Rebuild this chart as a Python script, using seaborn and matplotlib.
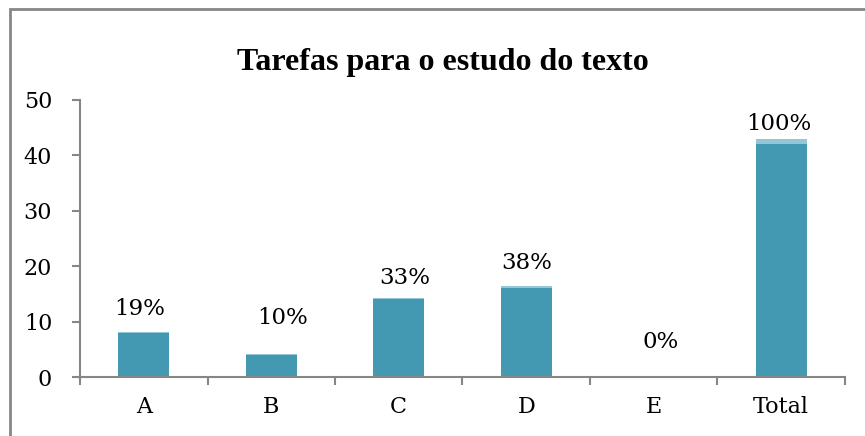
import matplotlib
matplotlib.use("Agg")
import matplotlib.pyplot as plt
from matplotlib.patches import Rectangle
import seaborn as sns
import pandas as pd

# chart data
categories = ["A", "B", "C", "D", "E", "Total"]
counts = [8, 4, 14, 16, 0, 42]
shares = [0.19, 0.10, 0.33, 0.38, 0.0, 1.0]
share_labels = ["19%", "10%", "33%", "38%", "0%", "100%"]

# manual label nudges (points), as placed in the original
label_dx = [-3, 8, 4, 0, 5, -2]
label_dy = [16, 26, 14, 17, 25, 10.5]

dark = "#4399B1"
light = "#93C6D6"
grey = "#868686"

sns.set_theme(style="white")
plt.rcParams["font.family"] = ["DejaVu Serif"]
plt.rcParams["text.color"] = "black"
plt.rcParams["xtick.color"] = "black"
plt.rcParams["ytick.color"] = "black"

df = pd.DataFrame({
    "categoria": categories,
    "n": counts,
    "topo": [c + s for c, s in zip(counts, shares)],
})

fig = plt.figure(figsize=(8.65, 4.36), dpi=100)
ax = fig.add_axes([80 / 865, 59 / 436, 765 / 865, 277 / 436])

# light cap = share stacked on top of the count
sns.barplot(data=df, x="categoria", y="topo", color=light, width=0.4,
            saturation=1, ax=ax, linewidth=0)
sns.barplot(data=df, x="categoria", y="n", color=dark, width=0.4,
            saturation=1, ax=ax, linewidth=0)

ax.set_xlim(-0.5, len(categories) - 0.5)
ax.set_ylim(0, 50)
ax.set_yticks(range(0, 51, 10))
ax.set_xlabel("")
ax.set_ylabel("")

# ticks between categories, labels at the centers
ax.set_xticks([i - 0.5 for i in range(len(categories) + 1)])
ax.set_xticklabels([])
ax.set_xticks(range(len(categories)), minor=True)
ax.set_xticklabels(categories, minor=True)
ax.tick_params(axis="x", which="major", direction="out", length=6,
               width=1.5, color=grey, bottom=True)
ax.tick_params(axis="x", which="minor", length=0, pad=14, labelsize=16,
               labelcolor="black")
ax.tick_params(axis="y", direction="out", length=6, width=1.5, color=grey,
               left=True, pad=14, labelsize=16, labelcolor="black")

for side in ["top", "right"]:
    ax.spines[side].set_visible(False)
for side in ["left", "bottom"]:
    ax.spines[side].set_color(grey)
    ax.spines[side].set_linewidth(1.5)

for i, lab in enumerate(share_labels):
    ax.annotate(lab, xy=(i, counts[i] + shares[i]),
                xytext=(label_dx[i], label_dy[i]), textcoords="offset points",
                ha="center", va="center", fontsize=16.5, color="black")

fig.text(442.5 / 865, (436 - 70) / 436, "Tarefas para o estudo do texto",
         ha="center", va="baseline", fontsize=23, fontweight="bold",
         color="black", family=["Liberation Serif"])

# outer chart frame (runs off the right and bottom edges)
fig.patches.append(Rectangle((9.5 / 865, -0.1), 1.1, 1 - 9.5 / 436 + 0.1,
                             transform=fig.transFigure, fill=False,
                             ec=grey, lw=2))

fig.savefig("out.png", dpi=100)
